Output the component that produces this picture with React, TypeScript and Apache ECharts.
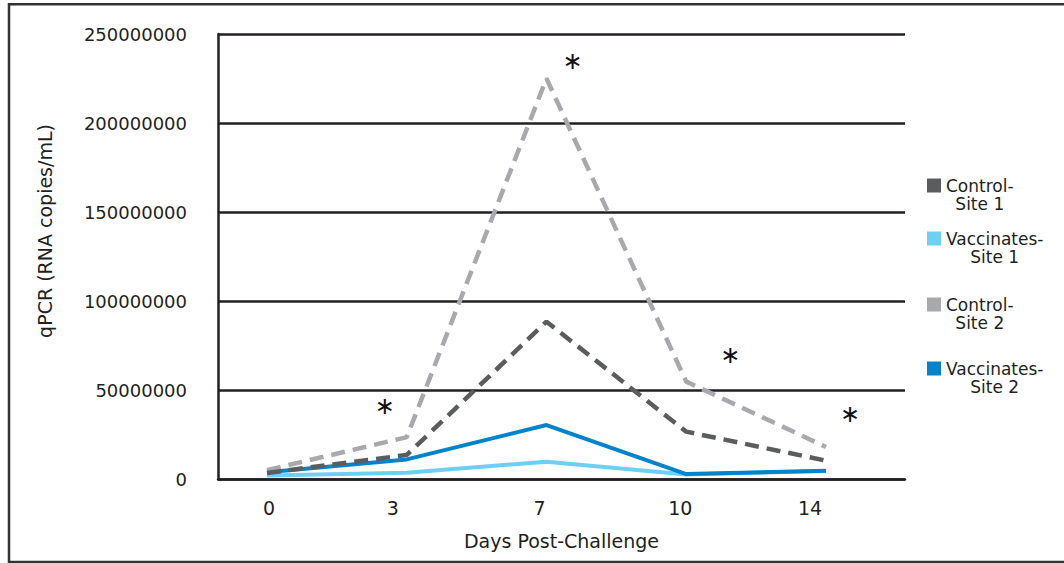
import React, { useEffect, useRef } from "react";
import * as echarts from "echarts";

const days = ["0", "3", "7", "10", "14"];
const controlSite1 = [3.4e6, 13.5e6, 88.4e6, 26.6e6, 10.3e6];
const vaccinatesSite1 = [1.9e6, 3.5e6, 9.7e6, 2.5e6, 4.5e6];
const controlSite2 = [5e6, 23.5e6, 225e6, 54.7e6, 18e6];
const vaccinatesSite2 = [3.8e6, 11e6, 30.3e6, 2.8e6, 4.7e6];
const significant = [false, true, true, true, true];
const seriesNames = ["Control-Site 1", "Vaccinates-Site 1", "Control-Site 2", "Vaccinates-Site 2"];
const yTicks = { min: 0, max: 250000000, interval: 50000000 };

const FONT = "DejaVu Sans";
const TEXT = "#231f20";

// style-only tweaks: asterisk label offsets and x-label horizontal nudges
const starOffsets: [number, number][] = [[0, 0], [-22, -31], [26, -18], [44, -27], [24, -33]];
const labelNudge = [2, -14, -7, -6, -16];

export default function App() {
  const ref = useRef<HTMLDivElement>(null);
  useEffect(() => {
    if (!ref.current) return;
    const chart = echarts.init(ref.current, undefined, { renderer: "svg" });

    const legendTops = [177, 230, 296, 360];
    const colors = ["#5b5c5e", "#6dcff6", "#a7a9ac", "#0383c9"];

    const legendFormatter = (name: string) => {
      const idx = name.indexOf("-");
      return `{c|${name.slice(0, idx + 1)}}\n{c|${name.slice(idx + 1)}}`;
    };

    const xData = days.map((d, i) => {
      const n = labelNudge[i];
      return {
        value: d,
        textStyle: { padding: n < 0 ? [0, -2 * n, 0, 0] : [0, 0, 0, 2 * n] },
      };
    });

    const option: any = {
      animation: false,
      backgroundColor: "#ffffff",
      grid: [
        { left: 218, right: 159, top: 34, bottom: 84 },
        { left: 267, right: 238, top: 34, bottom: 84 },
      ],
      xAxis: [
        {
          type: "category",
          gridIndex: 0,
          data: days,
          axisLine: { show: true, lineStyle: { color: TEXT, width: 2.5 } },
          axisTick: { show: false },
          axisLabel: { show: false },
          splitLine: { show: false },
          name: "Days Post-Challenge",
          nameLocation: "middle",
          nameGap: 52,
          nameTextStyle: { fontFamily: FONT, fontSize: 19, color: TEXT },
        },
        {
          type: "category",
          gridIndex: 1,
          data: xData,
          boundaryGap: false,
          axisLine: { show: false },
          axisTick: { show: false },
          axisLabel: { fontFamily: FONT, fontSize: 19, color: TEXT, margin: 19 },
          splitLine: { show: false },
        },
      ],
      yAxis: [
        {
          type: "value",
          gridIndex: 0,
          min: yTicks.min,
          max: yTicks.max,
          interval: yTicks.interval,
          axisLine: { show: true, lineStyle: { color: TEXT, width: 2.5 } },
          axisTick: { show: false },
          axisLabel: {
            fontFamily: FONT,
            fontSize: 18,
            color: TEXT,
            margin: 31,
            formatter: (v: number) => String(v),
          },
          splitLine: { show: true, lineStyle: { color: TEXT, width: 2.5 } },
        },
        {
          type: "value",
          gridIndex: 1,
          min: yTicks.min,
          max: yTicks.max,
          interval: yTicks.interval,
          axisLine: { show: false },
          axisTick: { show: false },
          axisLabel: { show: false },
          splitLine: { show: false },
        },
      ],
      legend: seriesNames.map((n, i) => ({
        data: [n],
        left: 927,
        top: legendTops[i],
        padding: 0,
        orient: "vertical",
        icon: "path://M0,0L0,0M0,1.5h14v14h-14zM0,36L0,36",
        itemWidth: 14,
        itemHeight: 36,
        itemStyle: { borderWidth: 0 },
        selectedMode: false,
        formatter: legendFormatter,
        textStyle: {
          fontFamily: FONT,
          fontSize: 17,
          color: TEXT,
          lineHeight: 18,
          rich: {
            c: { fontFamily: FONT, fontSize: 17, color: TEXT, lineHeight: 18, align: "center" },
          },
        },
      })),
      graphic: [
        {
          type: "rect",
          shape: { x: 9, y: 4.3, width: 1080, height: 557.7 },
          style: { fill: "none", stroke: "#333333", lineWidth: 2.5 },
          silent: true,
        },
        {
          type: "text",
          x: 45,
          y: 231,
          rotation: Math.PI / 2,
          style: {
            text: "qPCR (RNA copies/mL)",
            fontFamily: FONT,
            fontSize: 19,
            fill: TEXT,
            align: "center",
            verticalAlign: "middle",
          },
        },
      ],
      series: [
        {
          name: seriesNames[0],
          type: "line",
          xAxisIndex: 1,
          yAxisIndex: 1,
          data: controlSite1,
          color: colors[0],
          symbol: "none",
          lineStyle: { color: colors[0], width: 4.5, type: [14, 8], cap: "butt" },
          z: 5,
        },
        {
          name: seriesNames[1],
          type: "line",
          xAxisIndex: 1,
          yAxisIndex: 1,
          data: vaccinatesSite1,
          color: colors[1],
          symbol: "none",
          lineStyle: { color: colors[1], width: 4 },
          z: 2,
        },
        {
          name: seriesNames[2],
          type: "line",
          xAxisIndex: 1,
          yAxisIndex: 1,
          data: controlSite2.map((v, i) => ({
            value: v,
            label: {
              show: significant[i],
              position: "inside",
              offset: starOffsets[i],
              formatter: "\u2217",
              fontFamily: FONT,
              fontSize: 24,
              color: "#111111",
            },
          })),
          color: colors[2],
          symbol: "circle",
          symbolSize: 0,
          showSymbol: true,
          itemStyle: { color: colors[2], borderWidth: 0 },
          lineStyle: { color: colors[2], width: 4.5, type: [14, 8], cap: "butt" },
          z: 4,
        },
        {
          name: seriesNames[3],
          type: "line",
          xAxisIndex: 1,
          yAxisIndex: 1,
          data: vaccinatesSite2,
          color: colors[3],
          symbol: "none",
          lineStyle: { color: colors[3], width: 4 },
          z: 3,
        },
      ],
    };

    chart.setOption(option);
    return () => chart.dispose();
  }, []);

  return (
    <div
      ref={ref}
      style={{ position: "fixed", left: 0, top: 0, width: 1064, height: 563, background: "#fff" }}
    />
  );
}
